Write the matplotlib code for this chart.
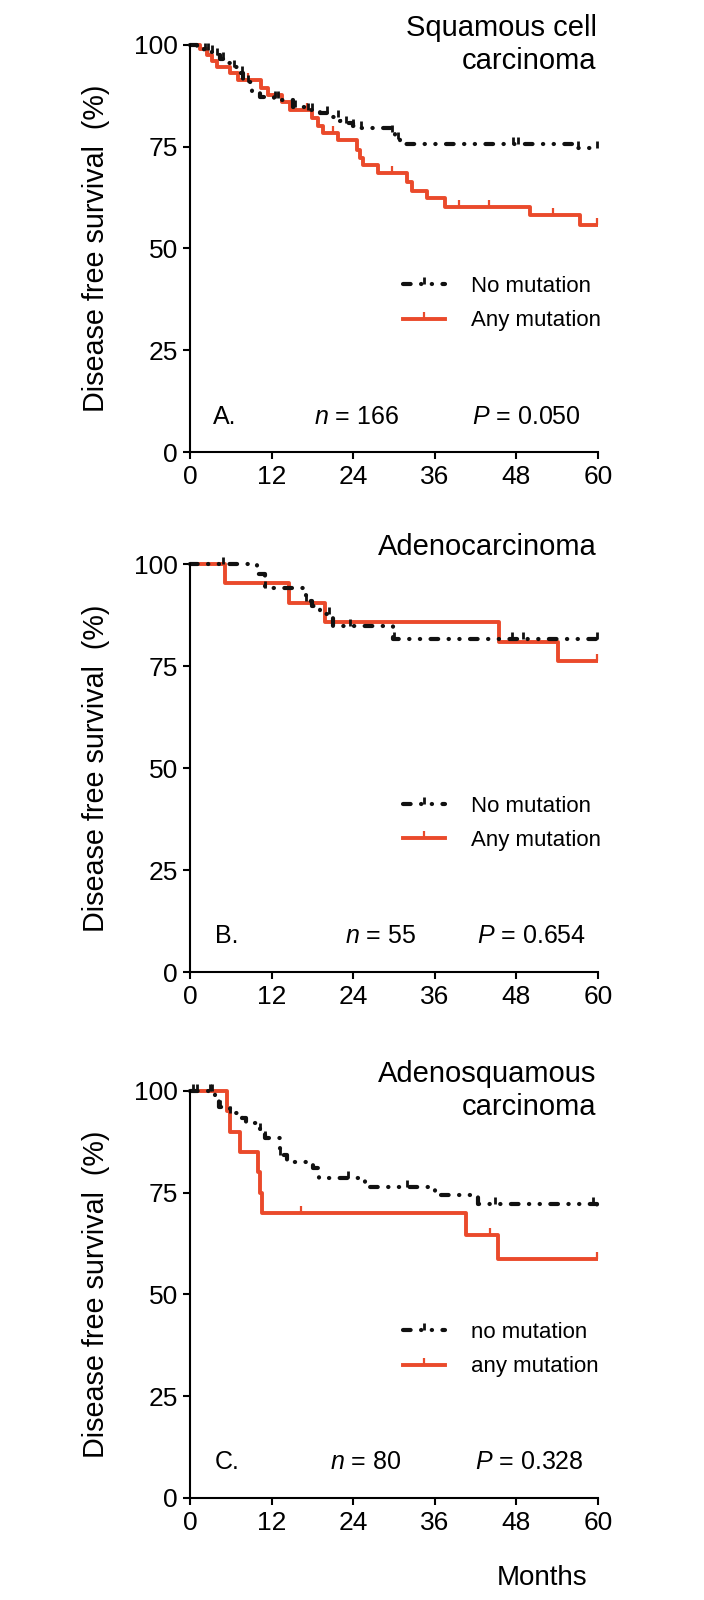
import matplotlib
matplotlib.use("Agg")
import matplotlib.pyplot as plt
import numpy as np
from matplotlib.lines import Line2D
from matplotlib.path import Path

plt.rcParams["font.family"] = ["Liberation Sans", "DejaVu Sans"]
plt.rcParams["mathtext.fontset"] = "custom"
plt.rcParams["mathtext.it"] = "Liberation Sans:italic"
plt.rcParams["mathtext.rm"] = "Liberation Sans"
plt.rcParams["lines.scale_dashes"] = False

RED = "#EA4A2B"
BLACK = "#111111"
MONTH_MAX = 60
LW_RED = 2.8
LW_BLACK = 3.0
DASH = (0, (5.5, 7.5, 0.2, 7.5, 0.2, 7.5))
CENSOR = Path([(0, 0), (0, 1)], [Path.MOVETO, Path.LINETO])

# ---- A. squamous cell carcinoma ----
sq_none_t = [0, 1.0, 2.0, 2.8, 3.4, 4.4, 5.2, 5.9, 7.1, 7.8, 9.1, 10.3, 12.3, 13.2,
             15.2, 17.2, 19.1, 20.3, 22.1, 23.0, 24.0, 25.2, 29.7, 30.2, 30.9, 56.9]
sq_none_v = [100, 99.4, 98.8, 98.2, 97.5, 96.5, 95.5, 94.7, 93.0, 91.0, 88.5, 87.3, 86.9, 86.5,
             84.8, 84.0, 83.2, 82.4, 81.4, 80.8, 80.0, 79.5, 78.5, 77.0, 75.6, 74.8]
sq_none_cens = [2.2, 2.7, 3.2, 3.9, 4.9, 6.4, 7.6, 8.6, 12.5, 13.0, 15.4, 17.4, 17.9, 20.1,
                21.8, 23.0, 24.0, 25.2, 29.7, 30.6, 47.5, 48.3, 57.1, 59.8]
sq_any_t = [0, 1.5, 2.5, 3.2, 4.0, 5.9, 7.1, 10.5, 11.5, 13.5, 14.7, 18.0, 18.8, 19.6,
            21.8, 24.5, 25.0, 25.5, 27.7, 31.9, 32.6, 34.8, 37.5, 50.0, 57.4]
sq_any_v = [100, 99, 97.5, 96, 94.7, 93.0, 91.4, 89.4, 87.7, 86.1, 84.0, 82.0, 80.0, 78.3,
            76.7, 74.2, 72.2, 70.5, 68.5, 66.4, 64.0, 62.3, 60.3, 58.2, 55.8]
sq_any_cens = [2.7, 8.6, 17.2, 21.1, 29.7, 39.5, 43.9, 53.4, 59.8]

# ---- B. adenocarcinoma ----
ad_none_t = [0, 9.8, 11.0, 17.0, 17.9, 19.1, 21.1, 29.9]
ad_none_v = [100, 97.5, 94.2, 91.0, 89.7, 87.7, 84.8, 81.6]
ad_none_cens = [4.9, 11.0, 17.0, 20.5, 23.5, 30.0, 47.3, 49.0, 59.8]
ad_any_t = [0, 5.2, 14.6, 19.8, 45.5, 54.1]
ad_any_v = [100, 95.24, 90.48, 85.71, 80.95, 76.19]
ad_any_cens = [59.8]

# ---- C. adenosquamous carcinoma ----
as_none_t = [0, 3.7, 4.2, 5.9, 7.6, 8.3, 10.3, 11.0, 13.2, 14.2, 18.1, 18.9, 25.7, 36.0, 42.4, 59.8]
as_none_v = [100, 97.8, 96.1, 94.5, 93.3, 92.2, 90.4, 88.4, 84.3, 82.6, 81.0, 78.5, 76.5, 74.3, 72.2, 70.8]
as_none_cens = [0.5, 1.0, 2.9, 3.2, 4.4, 5.9, 10.3, 11.0, 13.2, 23.3, 31.9, 42.4, 44.9, 59.3]
as_any_t = [0, 5.5, 5.9, 7.4, 10.0, 10.3, 10.6, 40.6, 45.3]
as_any_v = [100, 95, 90, 85, 80, 75, 70, 64.6, 58.8]
as_any_cens = [16.3, 44.1, 59.8]

titles = ["Squamous cell\ncarcinoma", "Adenocarcinoma", "Adenosquamous\ncarcinoma"]
panel_tags = ["A.", "B.", "C."]
n_texts = [r"$n$ = 166", r"$n$ = 55", r"$n$ = 80"]
p_texts = [r"$P$ = 0.050", r"$P$ = 0.654", r"$P$ = 0.328"]
legend_labels = [["No mutation", "Any mutation"], ["No mutation", "Any mutation"],
                 ["no mutation", "any mutation"]]
x_ticks = [0, 12, 24, 36, 48, 60]
y_ticks = [0, 25, 50, 75, 100]

# layout (figure fractions) and text x-positions (months)
axes_rects = [
    [0.2699, 0.7175, 0.5795, 0.2544],
    [0.2699, 0.3925, 0.5795, 0.2550],
    [0.2699, 0.0638, 0.5795, 0.2544],
]
tag_x = [[3.4, 18.2, 41.5], [3.7, 22.8, 42.2], [3.7, 20.6, 41.9]]


def step_value(t, v, at):
    idx = np.searchsorted(t, at, side="right") - 1
    return np.asarray(v)[idx]


def plot_curve(ax, t, v, cens, color, ls, lw, mew):
    t = np.asarray(t, dtype=float)
    v = np.asarray(v, dtype=float)
    ax.step(np.append(t, MONTH_MAX), np.append(v, v[-1]), where="post",
            color=color, lw=lw, ls=ls, dash_capstyle="round", clip_on=False,
            solid_capstyle="butt")
    ax.plot(cens, step_value(t, v, cens), ls="none", marker=CENSOR, ms=10,
            mew=mew, color=color, clip_on=False)


def style_axes(ax):
    for side in ["top", "right"]:
        ax.spines[side].set_visible(False)
    for side in ["left", "bottom"]:
        ax.spines[side].set_linewidth(1.5)
    ax.set_xlim(0, MONTH_MAX)
    ax.set_ylim(0, 100)
    ax.set_xticks(x_ticks)
    ax.set_yticks(y_ticks)
    ax.tick_params(direction="out", length=5, width=1.5, labelsize=19)
    ax.tick_params(axis="x", pad=4.5)
    ax.tick_params(axis="y", pad=3.6)
    ax.set_ylabel("Disease free survival  (%)", fontsize=20.7)
    ax.yaxis.set_label_coords(-0.196, 0.5)


fig = plt.figure(figsize=(7.04, 16), dpi=100)

curves = [
    (sq_none_t, sq_none_v, sq_none_cens, sq_any_t, sq_any_v, sq_any_cens),
    (ad_none_t, ad_none_v, ad_none_cens, ad_any_t, ad_any_v, ad_any_cens),
    (as_none_t, as_none_v, as_none_cens, as_any_t, as_any_v, as_any_cens),
]

for i, (nt, nv, nc, at, av, ac) in enumerate(curves):
    ax = fig.add_axes(axes_rects[i])
    style_axes(ax)
    plot_curve(ax, at, av, ac, RED, "-", LW_RED, 1.6)
    plot_curve(ax, nt, nv, nc, BLACK, DASH, LW_BLACK, 2.0)

    # title, one line at a time, right aligned above the plot
    for k, line in enumerate(titles[i].split("\n")):
        ax.annotate(line, xy=(1, 1), xycoords="axes fraction",
                    xytext=(-1, 6.5 - 24 * k), textcoords="offset points",
                    ha="right", va="baseline", fontsize=21)

    ax.text(tag_x[i][0], 7, panel_tags[i], fontsize=18, va="baseline")
    ax.text(tag_x[i][1], 7, n_texts[i], fontsize=18, va="baseline")
    ax.text(tag_x[i][2], 7, p_texts[i], fontsize=18, va="baseline")

    handles = [
        Line2D([], [], color=BLACK, lw=LW_BLACK, ls=DASH, dash_capstyle="round",
               marker=CENSOR, ms=10, mew=2.0),
        Line2D([], [], color=RED, lw=LW_RED, marker=CENSOR, ms=10, mew=1.6),
    ]
    ax.legend(handles, legend_labels[i], loc="upper left", bbox_to_anchor=(0.522, 0.432),
              frameon=False, fontsize=16, handlelength=1.9, handletextpad=1.15,
              labelspacing=0.6, borderpad=0, borderaxespad=0)

fig.text(587 / 704, 1 - 1585 / 1600, "Months", fontsize=20, ha="right", va="baseline")

fig.savefig("out.png", dpi=100)
